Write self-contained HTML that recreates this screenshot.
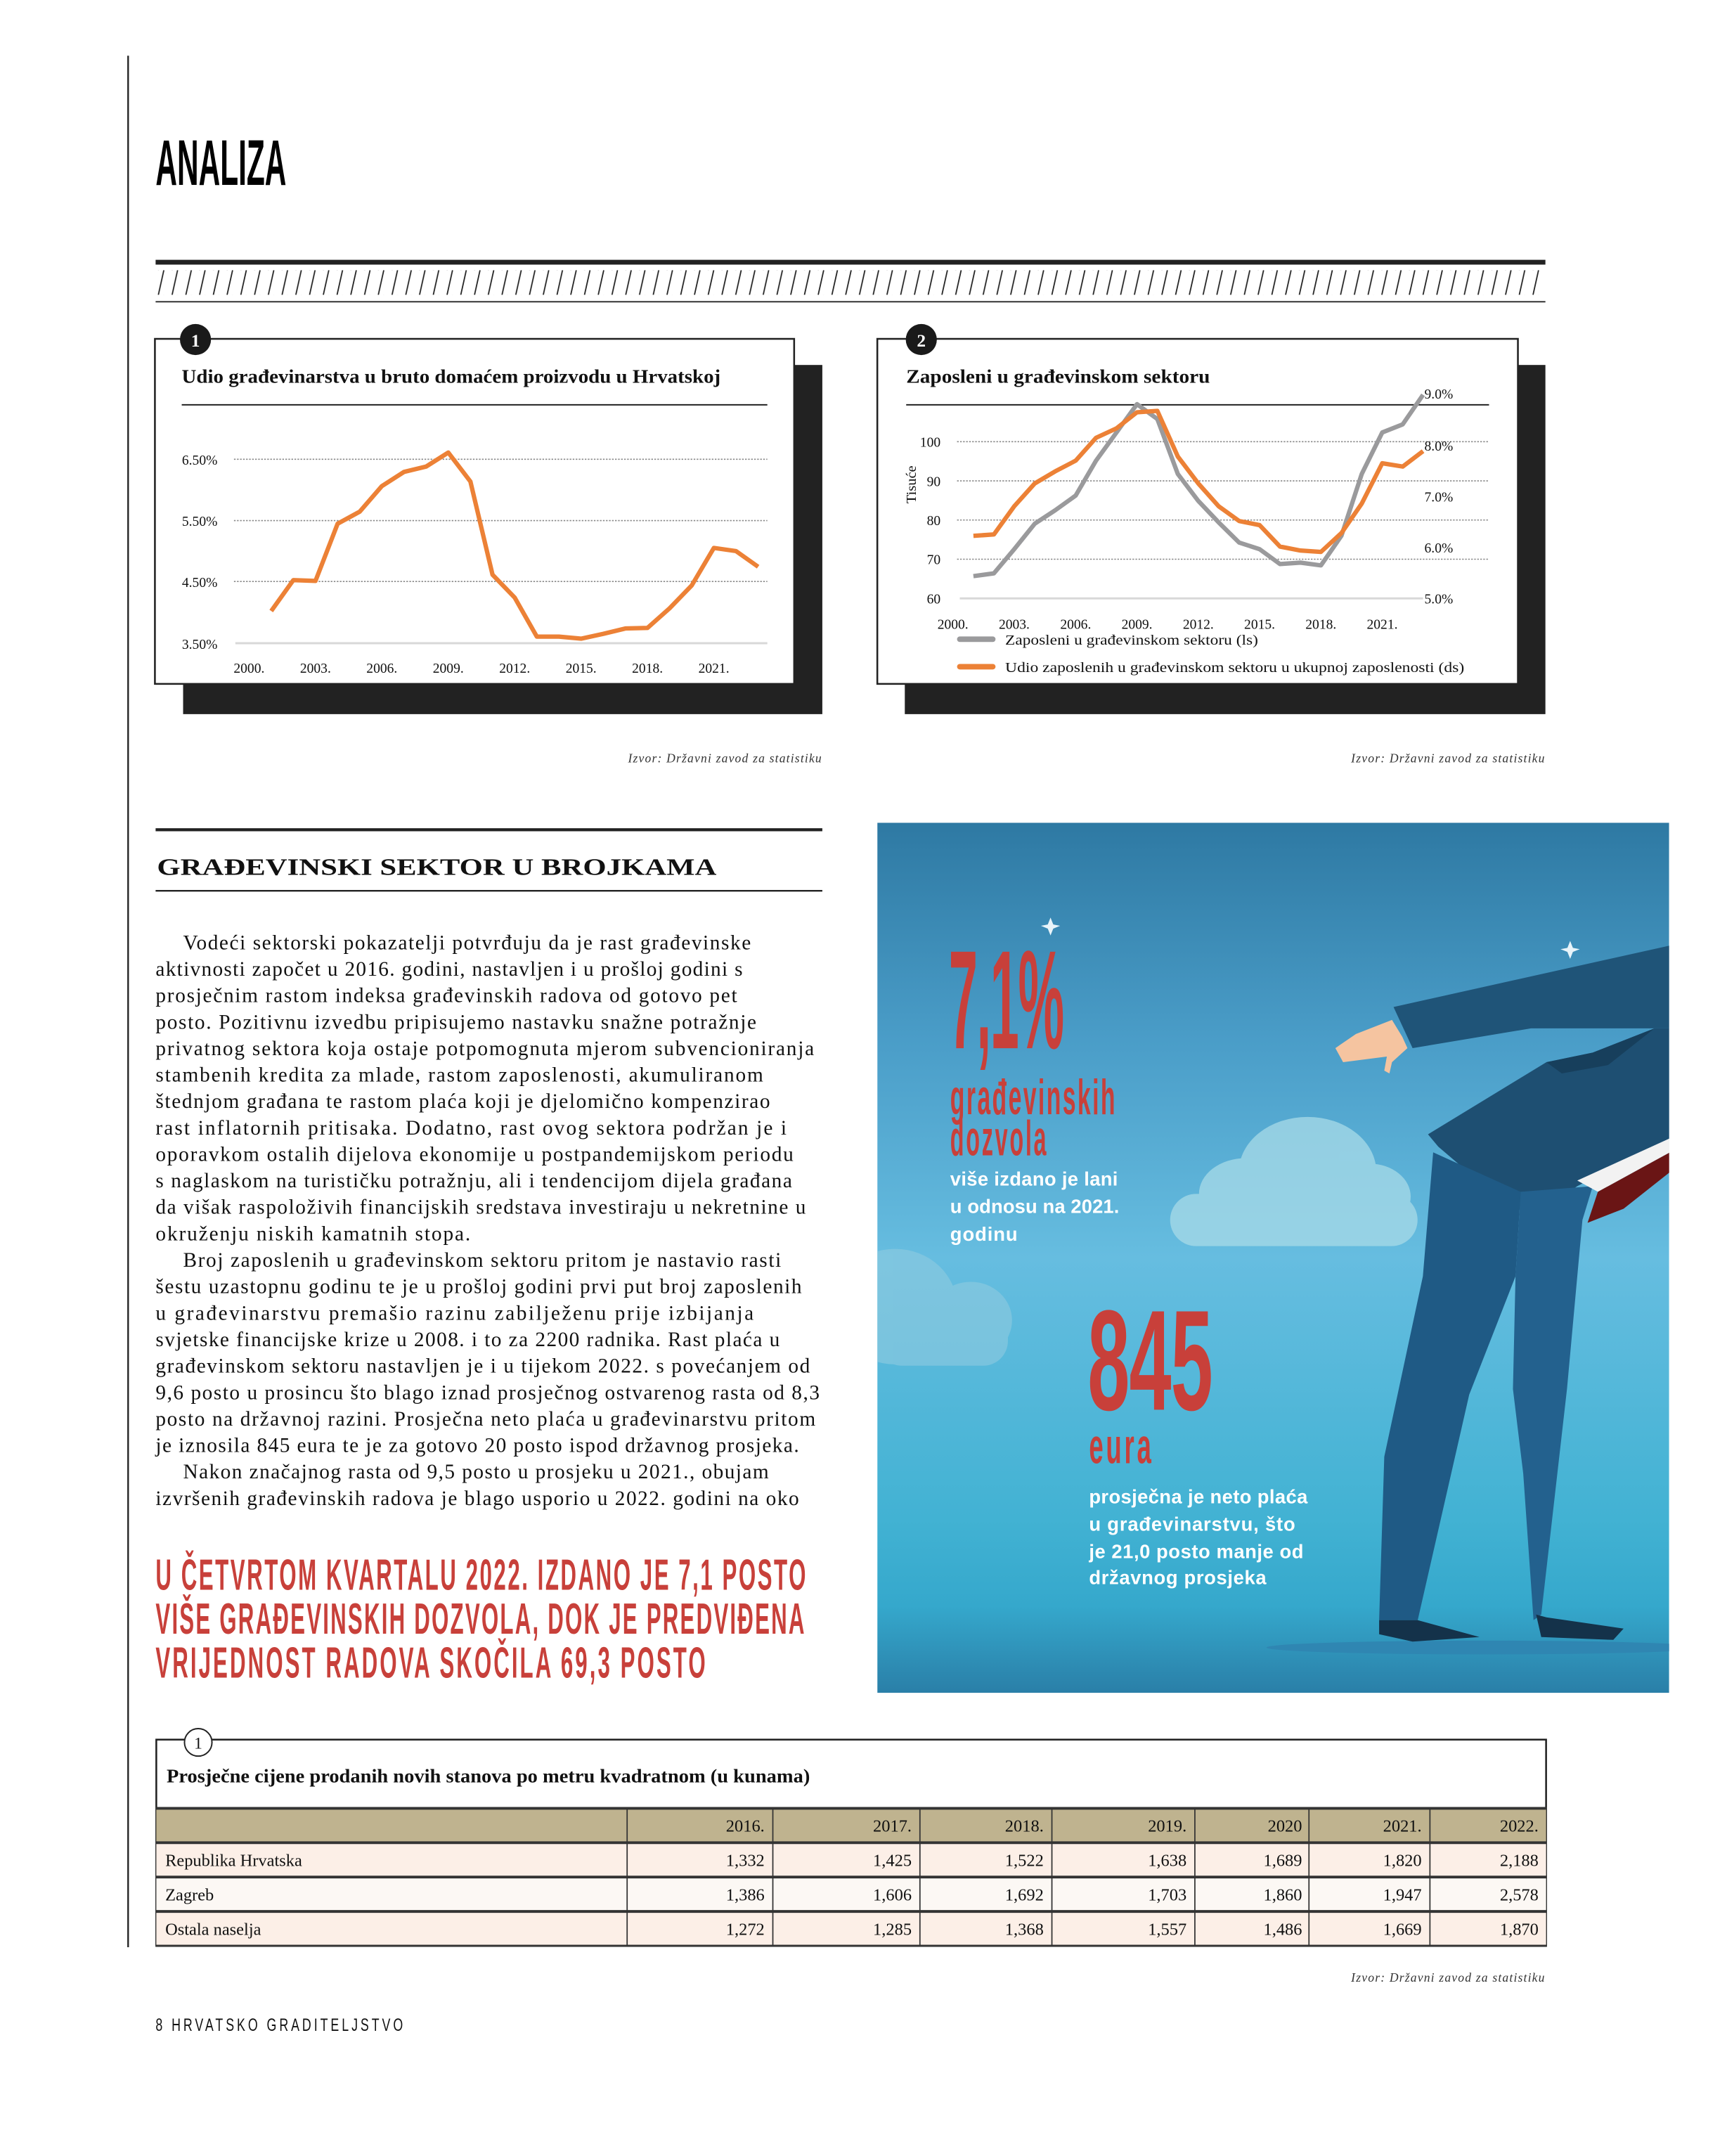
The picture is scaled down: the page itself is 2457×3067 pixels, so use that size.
<!DOCTYPE html>
<html><head><meta charset="utf-8"><style>
html,body{margin:0;padding:0;background:#fff;}
svg{display:block;}
.serif{font-family:"Liberation Serif",serif;}
.sans{font-family:"Liberation Sans",sans-serif;}
</style></head><body>
<svg xmlns="http://www.w3.org/2000/svg" width="2457" height="3067" viewBox="-1.2 -0.5 1256.3 1568.4" preserveAspectRatio="none">
<defs>
<pattern id="hatch" x="112" y="196" width="10" height="18" patternUnits="userSpaceOnUse">
<line x1="2" y1="18" x2="6" y2="0" stroke="#222" stroke-width="0.9"/>
</pattern>
<linearGradient id="sky" x1="0" y1="0" x2="0" y2="1">
<stop offset="0" stop-color="#2e79a3"/>
<stop offset="0.25" stop-color="#4a9dc8"/>
<stop offset="0.5" stop-color="#66bde0"/>
<stop offset="0.8" stop-color="#42b2d3"/>
<stop offset="0.9" stop-color="#35a8cc"/>
<stop offset="1" stop-color="#2a7fa8"/>
</linearGradient>
</defs>
<rect x="-5" y="-5" width="1270" height="1580" fill="#fff"/>
<line x1="92" y1="40" x2="92" y2="1416" stroke="#222" stroke-width="1.2"/>
<text transform="translate(112,134) scale(0.41,1)" class="sans" font-weight="bold" font-size="47" textLength="232" lengthAdjust="spacingAndGlyphs" fill="#000">ANALIZA</text>
<rect x="112" y="188.5" width="1011" height="3.5" fill="#222"/>
<rect x="112" y="196" width="1011" height="18" fill="url(#hatch)"/>
<line x1="112" y1="219" x2="1123" y2="219" stroke="#333" stroke-width="1"/>

<!-- CHART 1 -->
<rect x="132" y="265" width="465" height="254" fill="#222"/>
<rect x="111.5" y="246" width="465" height="251" fill="#fff" stroke="#222" stroke-width="1.3"/>
<circle cx="141" cy="246.5" r="11.3" fill="#1a1a1a"/>
<text x="141" y="251.5" text-anchor="middle" class="serif" font-weight="bold" font-size="13" fill="#fff">1</text>
<text x="131" y="278" class="serif" font-weight="bold" font-size="14" textLength="392" lengthAdjust="spacingAndGlyphs" fill="#111">Udio građevinarstva u bruto domaćem proizvodu u Hrvatskoj</text>
<line x1="131" y1="294" x2="557" y2="294" stroke="#222" stroke-width="1"/>
<g stroke="#888" stroke-width="0.8" stroke-dasharray="1.2,1">
<line x1="169" y1="333.6" x2="557" y2="333.6"/>
<line x1="169" y1="378.2" x2="557" y2="378.2"/>
<line x1="169" y1="422.5" x2="557" y2="422.5"/>
</g>
<line x1="170" y1="467.4" x2="557" y2="467.4" stroke="#d8d8d8" stroke-width="1.5"/>
<g class="serif" font-size="10" fill="#111" text-anchor="end">
<text x="157" y="337.5">6.50%</text>
<text x="157" y="382">5.50%</text>
<text x="157" y="426.5">4.50%</text>
<text x="157" y="471.5">3.50%</text>
</g>
<g class="serif" font-size="10" fill="#111" text-anchor="middle">
<text x="180" y="489">2000.</text><text x="228.3" y="489">2003.</text><text x="276.6" y="489">2006.</text><text x="324.9" y="489">2009.</text><text x="373.2" y="489">2012.</text><text x="421.5" y="489">2015.</text><text x="469.8" y="489">2018.</text><text x="518.1" y="489">2021.</text>
</g>
<polyline fill="none" stroke="#ec8136" stroke-width="3.2" stroke-linejoin="round" points="196.1,444.0 212.2,421.5 228.3,422.1 244.4,380.5 260.5,371.7 276.6,353.1 292.7,342.8 308.8,338.9 324.9,328.7 341.0,349.8 357.1,417.6 373.2,434.2 389.3,462.6 405.4,462.6 421.5,464.1 437.6,460.6 453.7,456.7 469.8,456.3 485.9,442.0 502.0,425.4 518.1,398.1 534.2,400.4 550.3,411.8"/>

<!-- CHART 2 -->
<rect x="657" y="265" width="466" height="254" fill="#222"/>
<rect x="637" y="246" width="466" height="251" fill="#fff" stroke="#222" stroke-width="1.3"/>
<circle cx="669" cy="246.5" r="11.3" fill="#1a1a1a"/>
<text x="669" y="251.5" text-anchor="middle" class="serif" font-weight="bold" font-size="13" fill="#fff">2</text>
<text x="658" y="278" class="serif" font-weight="bold" font-size="14" textLength="221" lengthAdjust="spacingAndGlyphs" fill="#111">Zaposleni u građevinskom sektoru</text>
<line x1="658" y1="294" x2="1082" y2="294" stroke="#222" stroke-width="1"/>
<g stroke="#888" stroke-width="0.8" stroke-dasharray="1.2,1">
<line x1="695" y1="320.8" x2="1082" y2="320.8"/>
<line x1="695" y1="349.3" x2="1082" y2="349.3"/>
<line x1="695" y1="377.8" x2="1082" y2="377.8"/>
<line x1="695" y1="406.3" x2="1082" y2="406.3"/>
</g>
<line x1="697" y1="434.8" x2="1034" y2="434.8" stroke="#d8d8d8" stroke-width="1.5"/>
<g class="serif" font-size="10" fill="#111" text-anchor="end">
<text x="683" y="324.5">100</text><text x="683" y="353">90</text><text x="683" y="381.5">80</text><text x="683" y="410">70</text><text x="683" y="438.5">60</text>
</g>
<g class="serif" font-size="10" fill="#111">
<text x="1035" y="289.5">9.0%</text><text x="1035" y="327.2">8.0%</text><text x="1035" y="364.4">7.0%</text><text x="1035" y="401.5">6.0%</text><text x="1035" y="438.6">5.0%</text>
</g>
<text transform="translate(665,352) rotate(-90)" text-anchor="middle" class="serif" font-size="10.5" fill="#111">Tisuće</text>
<g class="serif" font-size="10" fill="#111" text-anchor="middle">
<text x="692" y="457">2000.</text><text x="736.6" y="457">2003.</text><text x="781.3" y="457">2006.</text><text x="825.9" y="457">2009.</text><text x="870.5" y="457">2012.</text><text x="915.1" y="457">2015.</text><text x="959.7" y="457">2018.</text><text x="1004.3" y="457">2021.</text>
</g>
<polyline fill="none" stroke="#9a9a9c" stroke-width="3.2" stroke-linejoin="round" points="706.9,418.6 721.8,416.6 736.6,399.0 751.5,380.5 766.4,370.7 781.3,360.0 796.1,334.6 811.0,314.1 825.9,293.5 840.7,304.3 855.6,344.3 870.5,363.9 885.3,379.5 900.2,394.2 915.1,399.0 929.9,409.8 944.8,408.8 959.7,410.8 974.6,389.3 989.4,344.3 1004.3,314.1 1019.2,308.2 1034.0,286.7"/>
<polyline fill="none" stroke="#ec8136" stroke-width="3.2" stroke-linejoin="round" points="706.9,389.3 721.8,388.3 736.6,367.8 751.5,351.2 766.4,342.4 781.3,334.6 796.1,318.0 811.0,311.1 825.9,299.4 840.7,298.4 855.6,331.6 870.5,351.2 885.3,367.8 900.2,378.5 915.1,381.5 929.9,397.1 944.8,400.0 959.7,401.0 974.6,387.3 989.4,365.8 1004.3,336.5 1019.2,338.9 1034.0,327.7"/>
<line x1="697" y1="464.5" x2="721" y2="464.5" stroke="#9a9a9c" stroke-width="4" stroke-linecap="round"/>
<text x="730" y="468.5" class="serif" font-size="10" textLength="184" lengthAdjust="spacingAndGlyphs" fill="#111">Zaposleni u građevinskom sektoru (ls)</text>
<line x1="697" y1="484.5" x2="721" y2="484.5" stroke="#ec8136" stroke-width="4" stroke-linecap="round"/>
<text x="730" y="488.5" class="serif" font-size="10" textLength="334" lengthAdjust="spacingAndGlyphs" fill="#111">Udio zaposlenih u građevinskom sektoru u ukupnoj zaposlenosti (ds)</text>

<g class="serif" font-style="italic" font-size="9" fill="#333" text-anchor="end" letter-spacing="0.6">
<text x="597" y="554">Izvor: Državni zavod za statistiku</text>
<text x="1123" y="554">Izvor: Državni zavod za statistiku</text>
<text x="1123" y="1441">Izvor: Državni zavod za statistiku</text>
</g>

<rect x="112" y="602" width="485" height="2.2" fill="#222"/>
<text x="113" y="636" class="serif" font-weight="bold" font-size="17.5" textLength="407" lengthAdjust="spacingAndGlyphs" fill="#111">GRAĐEVINSKI SEKTOR U BROJKAMA</text>
<line x1="112" y1="647.5" x2="597" y2="647.5" stroke="#222" stroke-width="1.2"/>

<g class="serif" font-size="15" fill="#111" lengthAdjust="spacingAndGlyphs">
<text x="132" y="690" textLength="413">Vodeći sektorski pokazatelji potvrđuju da je rast građevinske</text>
<text x="112" y="709.3" textLength="427">aktivnosti započet u 2016. godini, nastavljen i u prošloj godini s</text>
<text x="112" y="728.5" textLength="423">prosječnim rastom indeksa građevinskih radova od gotovo pet</text>
<text x="112" y="747.8" textLength="437">posto. Pozitivnu izvedbu pripisujemo nastavku snažne potražnje</text>
<text x="112" y="767" textLength="479">privatnog sektora koja ostaje potpomognuta mjerom subvencioniranja</text>
<text x="112" y="786.3" textLength="442">stambenih kredita za mlade, rastom zaposlenosti, akumuliranom</text>
<text x="112" y="805.5" textLength="447">štednjom građana te rastom plaća koji je djelomično kompenzirao</text>
<text x="112" y="824.8" textLength="459">rast inflatornih pritisaka. Dodatno, rast ovog sektora podržan je i</text>
<text x="112" y="844" textLength="464">oporavkom ostalih dijelova ekonomije u postpandemijskom periodu</text>
<text x="112" y="863.3" textLength="463">s naglaskom na turističku potražnju, ali i tendencijom dijela građana</text>
<text x="112" y="882.5" textLength="473">da višak raspoloživih financijskih sredstava investiraju u nekretnine u</text>
<text x="112" y="901.8" textLength="229">okruženju niskih kamatnih stopa.</text>
<text x="132" y="921" textLength="435">Broj zaposlenih u građevinskom sektoru pritom je nastavio rasti</text>
<text x="112" y="940.3" textLength="470">šestu uzastopnu godinu te je u prošloj godini prvi put broj zaposlenih</text>
<text x="112" y="959.5" textLength="435">u građevinarstvu premašio razinu zabilježenu prije izbijanja</text>
<text x="112" y="978.8" textLength="454">svjetske financijske krize u 2008. i to za 2200 radnika. Rast plaća u</text>
<text x="112" y="998" textLength="476">građevinskom sektoru nastavljen je i u tijekom 2022. s povećanjem od</text>
<text x="112" y="1017.3" textLength="483">9,6 posto u prosincu što blago iznad prosječnog ostvarenog rasta od 8,3</text>
<text x="112" y="1036.5" textLength="480">posto na državnoj razini. Prosječna neto plaća u građevinarstvu pritom</text>
<text x="112" y="1055.8" textLength="468">je iznosila 845 eura te je za gotovo 20 posto ispod državnog prosjeka.</text>
<text x="132" y="1075" textLength="426">Nakon značajnog rasta od 9,5 posto u prosjeku u 2021., obujam</text>
<text x="112" y="1094.3" textLength="468">izvršenih građevinskih radova je blago usporio u 2022. godini na oko</text>
</g>

<g class="sans" font-weight="bold" font-size="32" fill="#c8403a" lengthAdjust="spacingAndGlyphs">
<text transform="translate(112,1156) scale(0.5,1)" textLength="946">U ČETVRTOM KVARTALU 2022. IZDANO JE 7,1 POSTO</text>
<text transform="translate(112,1188) scale(0.5,1)" textLength="944">VIŠE GRAĐEVINSKIH DOZVOLA, DOK JE PREDVIĐENA</text>
<text transform="translate(112,1220) scale(0.5,1)" textLength="800">VRIJEDNOST RADOVA SKOČILA 69,3  POSTO</text>
</g>

<svg x="637" y="598" width="576" height="633" viewBox="637 598 576 633" overflow="hidden">
<rect x="637" y="598" width="576" height="633" fill="url(#sky)"/>
<g fill="#a8dbe8" opacity="0.75">
<ellipse cx="950" cy="852" rx="50" ry="40"/>
<ellipse cx="905" cy="868" rx="34" ry="26"/>
<ellipse cx="995" cy="870" rx="30" ry="24"/>
<rect x="850" y="868" width="180" height="38" rx="19"/>
</g>
<g fill="#8fcbe0" opacity="0.6">
<ellipse cx="650" cy="950" rx="45" ry="42"/>
<ellipse cx="705" cy="960" rx="30" ry="28"/>
<rect x="637" y="955" width="95" height="38" rx="18"/>
</g>
<g fill="#e8f4fa">
<path d="M763,667 L765,672 L770,673 L765,675 L763,680 L761,675 L756,673 L761,672Z"/>
<path d="M1141,684 L1143,689 L1148,690 L1143,692 L1141,697 L1139,692 L1134,690 L1139,689Z"/>
</g>
<ellipse cx="1080" cy="1198" rx="160" ry="5" fill="#2f86b2"/>
<g transform="translate(637,600) scale(0.3744,0.41)">
<polygon fill="#1f5478" points="1003,322 1540,213 1540,360 1270,360 1040,395"/>
<polygon fill="#f5c4a0" points="890,395 930,370 1000,345 1020,375 1030,395 1000,420 995,440 985,435 990,410 905,420"/>
<polygon fill="#1e4f72" points="1070,548 1300,420 1390,403 1510,360 1540,360 1540,555 1360,640 1270,695 1180,640 1090,570"/>
<polygon fill="#173f5c" points="1300,420 1390,403 1510,360 1420,425 1330,440"/>
<polygon fill="#1f5a85" points="1080,580 1250,650 1240,800 1150,1010 1050,1410 975,1410 985,1120 1060,800"/>
<polygon fill="#23618e" points="1250,650 1390,640 1370,700 1340,1000 1290,1400 1275,1410 1255,1150 1235,1000 1240,800"/>
<polygon fill="#f2f2f2" points="1360,630 1540,555 1540,580 1400,650"/>
<polygon fill="#6a1515" points="1380,705 1400,650 1540,580 1540,615 1450,680"/>
<polygon fill="#14324a" points="975,1410 1050,1410 1170,1440 1040,1448 975,1435"/>
<polygon fill="#14324a" points="1280,1400 1300,1405 1450,1425 1430,1445 1290,1440"/>
</g>
<g class="sans" font-weight="bold" fill="#c8403a" lengthAdjust="spacingAndGlyphs">
<text transform="translate(689,762) scale(0.37,1)" font-size="102" textLength="227">7,1%</text>
<text transform="translate(690,810) scale(0.48,1)" font-size="36" textLength="250">građevinskih</text>
<text transform="translate(690,840) scale(0.46,1)" font-size="36" textLength="152">dozvola</text>
<text transform="translate(790,1025) scale(0.53,1)" font-size="104" textLength="172">845</text>
<text transform="translate(791,1064) scale(0.52,1)" font-size="36" textLength="87">eura</text>
</g>
<g class="sans" font-weight="bold" font-size="14" fill="#fff" lengthAdjust="spacingAndGlyphs">
<text x="690" y="862" textLength="122">više izdano je lani</text>
<text x="690" y="882" textLength="123">u odnosu na 2021.</text>
<text x="690" y="902" textLength="49">godinu</text>
<text x="791" y="1093" textLength="159">prosječna je neto plaća</text>
<text x="791" y="1113" textLength="150">u građevinarstvu, što</text>
<text x="791" y="1133" textLength="156">je  21,0 posto manje od</text>
<text x="791" y="1152" textLength="129">državnog prosjeka</text>
</g>
</svg>

<rect x="112.5" y="1265" width="1011" height="150" fill="#fff" stroke="#222" stroke-width="1.3"/>
<circle cx="143" cy="1267" r="10" fill="#fff" stroke="#222" stroke-width="1"/>
<text x="143" y="1271.5" text-anchor="middle" class="serif" font-size="12" fill="#111">1</text>
<text x="120" y="1296" class="serif" font-weight="bold" font-size="14" textLength="468" lengthAdjust="spacingAndGlyphs" fill="#111">Prosječne cijene prodanih novih stanova po metru kvadratnom (u kunama)</text>
<rect x="112.5" y="1315" width="1011" height="25" fill="#bfb38f"/>
<rect x="112.5" y="1340" width="1011" height="25" fill="#fcefe7"/>
<rect x="112.5" y="1365" width="1011" height="25" fill="#fcf8f4"/>
<rect x="112.5" y="1390" width="1011" height="25" fill="#fcefe7"/>
<g stroke="#333">
<line x1="112" y1="1315" x2="1124" y2="1315" stroke-width="2"/>
<line x1="112" y1="1340" x2="1124" y2="1340" stroke-width="2"/>
<line x1="112" y1="1365" x2="1124" y2="1365" stroke-width="2"/>
<line x1="112" y1="1390" x2="1124" y2="1390" stroke-width="2"/>
<line x1="112" y1="1415" x2="1124" y2="1415" stroke-width="1.5"/>
<g stroke-width="0.9">
<line x1="455" y1="1315" x2="455" y2="1415"/><line x1="561" y1="1315" x2="561" y2="1415"/><line x1="668" y1="1315" x2="668" y2="1415"/><line x1="764" y1="1315" x2="764" y2="1415"/><line x1="868" y1="1315" x2="868" y2="1415"/><line x1="951" y1="1315" x2="951" y2="1415"/><line x1="1039" y1="1315" x2="1039" y2="1415"/>
</g>
</g>
<g class="serif" font-size="12.5" fill="#111" text-anchor="end">
<text x="555" y="1332">2016.</text><text x="662" y="1332">2017.</text><text x="758" y="1332">2018.</text><text x="862" y="1332">2019.</text><text x="946" y="1332">2020</text><text x="1033" y="1332">2021.</text><text x="1118" y="1332">2022.</text>
<text x="555" y="1357">1,332</text><text x="662" y="1357">1,425</text><text x="758" y="1357">1,522</text><text x="862" y="1357">1,638</text><text x="946" y="1357">1,689</text><text x="1033" y="1357">1,820</text><text x="1118" y="1357">2,188</text>
<text x="555" y="1382">1,386</text><text x="662" y="1382">1,606</text><text x="758" y="1382">1,692</text><text x="862" y="1382">1,703</text><text x="946" y="1382">1,860</text><text x="1033" y="1382">1,947</text><text x="1118" y="1382">2,578</text>
<text x="555" y="1407">1,272</text><text x="662" y="1407">1,285</text><text x="758" y="1407">1,368</text><text x="862" y="1407">1,557</text><text x="946" y="1407">1,486</text><text x="1033" y="1407">1,669</text><text x="1118" y="1407">1,870</text>
</g>
<g class="serif" font-size="12.5" fill="#111">
<text x="119" y="1357">Republika Hrvatska</text>
<text x="119" y="1382">Zagreb</text>
<text x="119" y="1407">Ostala naselja</text>
</g>

<text transform="translate(112,1477) scale(0.7,1)" class="sans" font-size="13" textLength="257" lengthAdjust="spacing" fill="#111">8  HRVATSKO GRADITELJSTVO</text>
</svg>
</body></html>
